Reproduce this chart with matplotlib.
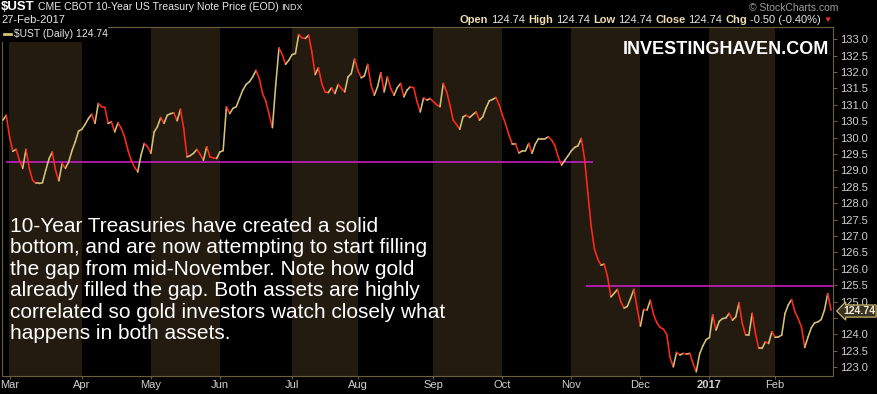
import numpy as np
import pandas as pd
import matplotlib
matplotlib.use('Agg')
import matplotlib.pyplot as plt
from matplotlib.collections import LineCollection
from matplotlib.transforms import IdentityTransform, blended_transform_factory

plt.rcParams['font.family'] = ['Liberation Sans', 'DejaVu Sans']

# $UST daily closes, 26-Feb-2016 .. 27-Feb-2017
ust = [
    130.53, 130.68, 130.02, 129.58, 129.64, 129.31, 129.06, 129.64, 129.06, 128.70,
    128.60, 128.60, 128.62, 129.00, 129.35, 129.56, 129.00, 128.68, 129.21, 129.06,
    129.26, 129.60, 129.87, 130.20, 130.25, 130.40, 130.58, 130.71, 130.43, 131.04,
    130.94, 130.92, 130.43, 130.48, 130.17, 130.45, 130.28, 130.02, 129.62, 129.31,
    129.10, 128.95, 129.46, 129.82, 129.72, 129.52, 130.17, 130.33, 130.61, 130.43,
    130.68, 130.73, 130.75, 130.51, 130.86, 130.28, 129.41, 129.45, 129.52, 129.64,
    129.49, 129.31, 129.72, 129.41, 129.38, 129.36, 129.56, 129.60, 130.94, 130.73,
    130.89, 130.94, 131.20, 131.45, 131.62, 131.70, 131.85, 132.05, 131.80, 131.34,
    131.10, 130.70, 130.30, 131.60, 132.73, 132.53, 132.23, 132.36, 132.53, 132.56,
    133.14, 133.04, 133.02, 133.12, 132.61, 131.92, 132.13, 131.65, 131.39, 131.37,
    131.52, 131.34, 131.62, 131.50, 131.39, 131.85, 131.95, 132.39, 132.05, 131.82,
    131.88, 132.23, 131.60, 131.29, 131.55, 131.98, 131.39, 131.85, 131.50, 131.29,
    131.52, 131.65, 131.24, 131.45, 131.55, 131.52, 131.10, 130.78, 131.21, 131.14,
    131.19, 131.09, 131.00, 130.94, 131.65, 131.40, 131.00, 130.53, 130.40, 130.25,
    130.63, 130.68, 130.61, 130.70, 130.78, 130.53, 130.63, 130.90, 131.12, 131.16,
    131.22, 131.00, 130.68, 130.40, 130.07, 129.80, 129.80, 129.53, 129.59, 129.59,
    129.82, 129.52, 129.80, 129.97, 129.97, 129.97, 130.02, 129.92, 129.74, 129.40,
    129.16, 129.31, 129.45, 129.60, 129.70, 129.75, 129.97, 129.35, 128.30, 127.30,
    126.60, 126.30, 126.11, 126.14, 125.75, 125.14, 125.25, 125.37, 125.00, 124.80,
    124.85, 125.10, 125.37, 124.80, 124.25, 124.76, 124.74, 125.04, 124.60, 124.35,
    124.21, 124.16, 124.00, 123.30, 123.01, 123.45, 123.37, 123.42, 123.40, 123.42,
    123.11, 122.86, 123.40, 123.65, 123.84, 123.90, 124.59, 124.13, 124.40, 124.48,
    124.50, 124.64, 124.43, 124.53, 124.96, 124.33, 123.98, 123.98, 124.64, 124.03,
    123.57, 123.57, 123.77, 123.72, 124.08, 123.91, 123.92, 123.98, 124.64, 124.90,
    125.06, 124.69, 124.48, 124.23, 123.60, 123.92, 124.20, 124.35, 124.38, 124.45,
    124.74, 125.24, 124.74,
]
holidays = ['2016-03-25', '2016-05-30', '2016-07-04', '2016-09-05', '2016-11-24',
            '2016-12-26', '2017-01-02', '2017-01-16', '2017-02-20']
dates = pd.bdate_range('2016-02-26', '2017-02-27', freq='C', holidays=holidays)
dates = dates[-len(ust):]

# horizontal levels drawn on the chart
level_hi = 129.25
level_hi_span = ('2016-02-29', '2016-11-09')
level_lo = 125.47
level_lo_start = '2016-11-07'

last = ust[-1]
chg = ust[-1] - ust[-2]

UP = '#d4c27a'
DOWN = '#ff2a1c'
BAND = '#231b0f'
FRAME = '#6b5e3a'
TXT = '#d0d0d0'

fig = plt.figure(figsize=(8.78, 3.94), dpi=100, facecolor='black')
ax = fig.add_axes([2 / 878, 1 - 376 / 394, 831 / 878, 349 / 394])
ax.set_facecolor('black')

x = np.arange(len(ust))
y = np.array(ust)

# month bands + ticks
month_start = [i for i in range(len(dates)) if i == 0 or dates[i].month != dates[i - 1].month]
month_start = [i for i in month_start if i > 0 or dates[0].day == 1]
edges = month_start + [len(dates) + 5]
for a, b in zip(edges[:-1], edges[1:]):
    if dates[a].month % 2 == 1:
        ax.axvspan(a - 0.1, b - 0.1, color=BAND, lw=0, zorder=0)

labels = []
for i in month_start:
    labels.append(str(dates[i].year) if dates[i].month == 1 else dates[i].strftime('%b'))
ax.set_xticks(month_start)
ax.set_xticklabels(labels)
for t, lab in zip(ax.get_xticklabels(), labels):
    if lab.isdigit():
        t.set_fontweight('bold')

# price line coloured by direction
pts = np.column_stack([x, y]).reshape(-1, 1, 2)
segs = np.concatenate([pts[:-1], pts[1:]], axis=1)
cols = [UP if y[i + 1] >= y[i] else DOWN for i in range(len(y) - 1)]
ax.add_collection(LineCollection(segs, colors=cols, linewidths=1.15, zorder=3,
                                 capstyle='round', joinstyle='round'))

# levels
d_idx = {d.strftime('%Y-%m-%d'): i for i, d in enumerate(dates)}
ax.hlines(level_hi, d_idx[level_hi_span[0]], d_idx[level_hi_span[1]] + 0.6,
          color='#d21fd2', lw=1.1, zorder=2)
ax.hlines(level_lo, d_idx[level_lo_start] + 0.3, len(ust) + 1,
          color='#d21fd2', lw=1.1, zorder=2)

ax.set_xlim(-0.3, len(ust) - 0.4)
ax.set_ylim(122.73, 133.37)
ax.yaxis.tick_right()
ax.set_yticks(np.arange(123.0, 133.01, 0.5))
ax.yaxis.set_major_formatter(matplotlib.ticker.FormatStrFormatter('%.1f'))
ax.tick_params(axis='y', colors=FRAME, labelcolor=TXT, labelsize=8, length=3, pad=2)
ax.tick_params(axis='x', colors=FRAME, labelcolor=TXT, labelsize=8, length=2, pad=1)
for s in ax.spines.values():
    s.set_color(FRAME)
    s.set_linewidth(0.8)

# last price tag (covers the 124.5 label, as on the original)
for t in ax.get_yticklabels():
    if t.get_text() == '124.5':
        t.set_visible(False)
tr = blended_transform_factory(ax.transAxes, ax.transData)
ax.text(1.012, last - 0.03, '%.2f' % last, transform=tr, ha='left', va='center', fontsize=7.6,
        fontweight='bold', color='#f2ecd8', zorder=6, clip_on=False,
        bbox=dict(boxstyle='larrow,pad=0.1', fc='#3a3220', ec='#c8b46e', lw=0.9))

# legend
ax.add_patch(plt.Rectangle((0.0, 0.958), 0.128, 0.042, transform=ax.transAxes,
                           fc='black', ec='none', zorder=4))
ax.plot([0.003, 0.011], [0.979, 0.979], transform=ax.transAxes, color=UP, lw=2, zorder=5)
ax.text(0.014, 0.979, '$UST (Daily) %.2f' % last, transform=ax.transAxes, fontsize=7.5,
        color='#e6e6e6', va='center', ha='left', zorder=5)

# watermark and comment
fig.text(829 / 878, 1 - 50 / 394, 'INVESTINGHAVEN.COM', ha='right', va='center',
         fontsize=13, fontweight='bold', color='white')
fig.text(10 / 878, 1 - 217 / 394,
         '10-Year Treasuries have created a solid\n'
         'bottom, and are now attempting to start filling\n'
         'the gap from mid-November. Note how gold\n'
         'already filled the gap. Both assets are highly\n'
         'correlated so gold investors watch closely what\n'
         'happens in both assets.',
         ha='left', va='top', fontsize=15, color='white', linespacing=1.16)

# header
fig.canvas.draw()
rend = fig.canvas.get_renderer()
H = 394


def chain(pieces, x0, ytop):
    xp = x0
    for s, kw in pieces:
        t = fig.text(xp, H - ytop, s, transform=IdentityTransform(), va='center', ha='left', **kw)
        xp = t.get_window_extent(rend).x1 + 3
    return xp


chain([('$UST', dict(fontsize=9.5, fontweight='bold', color='white')),
       ('CME CBOT 10-Year US Treasury Note Price (EOD)', dict(fontsize=7.6, color='#e6e6e6')),
       ('INDX', dict(fontsize=6.5, color='#e6e6e6'))], 1, 7)
fig.text(1, H - 20, '27-Feb-2017', transform=IdentityTransform(), va='center', ha='left',
         fontsize=8, color='#e6e6e6')
fig.text(838, H - 8, '\u00a9 StockCharts.com', transform=IdentityTransform(), va='center',
         ha='right', fontsize=7.5, color='#9c9c9c')
lab = dict(fontsize=8, fontweight='bold', color='#ecdcae')
val = dict(fontsize=8, color='#e6e6e6')
chain([('Open', lab), ('%.2f' % last, val), ('High', lab), ('%.2f' % last, val),
       ('Low', lab), ('%.2f' % last, val), ('Close', lab), ('%.2f' % last, val),
       ('Chg', lab), ('%.2f (%.2f%%)' % (chg, chg / ust[-2] * 100), val),
       ('\u25bc', dict(fontsize=6, color='#ff2a2a'))], 460, 20)

fig.savefig('out.png', dpi=100, facecolor='black')
